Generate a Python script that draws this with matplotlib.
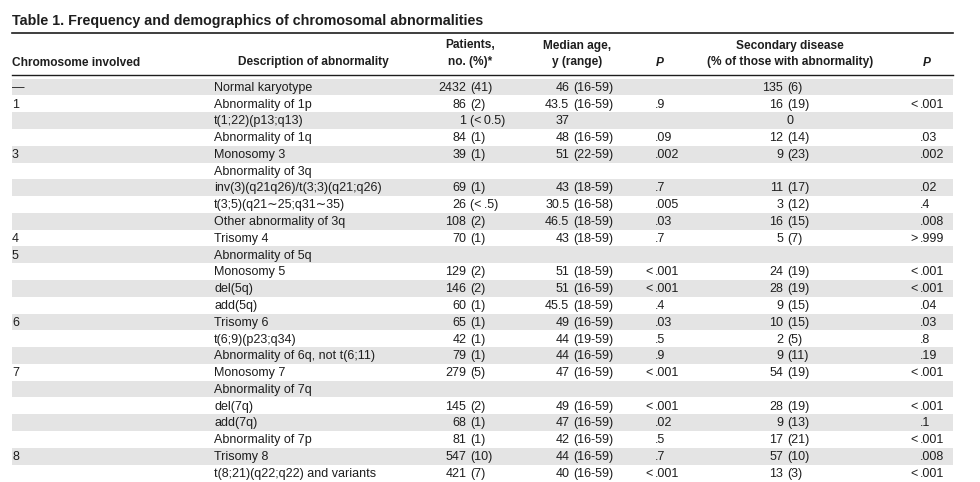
import matplotlib
matplotlib.use('Agg')
import matplotlib.pyplot as plt
from matplotlib.patches import Rectangle

# ------------- table contents ------------- #

title = 'Table 1. Frequency and demographics of chromosomal abnormalities'

chromosome = ['\u2014', '1', '', '', '3', '', '', '', '', '4', '5', '', '', '',
              '6', '', '', '7', '', '', '', '', '8', '']
description = ['Normal karyotype', 'Abnormality of 1p', 't(1;22)(p13;q13)',
               'Abnormality of 1q', 'Monosomy 3', 'Abnormality of 3q',
               'inv(3)(q21q26)/t(3;3)(q21;q26)', 't(3;5)(q21\u223c25;q31\u223c35)',
               'Other abnormality of 3q', 'Trisomy 4', 'Abnormality of 5q',
               'Monosomy 5', 'del(5q)', 'add(5q)', 'Trisomy 6', 't(6;9)(p23;q34)',
               'Abnormality of 6q, not t(6;11)', 'Monosomy 7', 'Abnormality of 7q',
               'del(7q)', 'add(7q)', 'Abnormality of 7p', 'Trisomy 8',
               't(8;21)(q22;q22) and variants']
patients = ['2432 (41)', '86 (2)', '1 (< 0.5)', '84 (1)', '39 (1)', '',
            '69 (1)', '26 (< .5)', '108 (2)', '70 (1)', '', '129 (2)',
            '146 (2)', '60 (1)', '65 (1)', '42 (1)', '79 (1)', '279 (5)', '',
            '145 (2)', '68 (1)', '81 (1)', '547 (10)', '421 (7)']
median_age = ['46 (16-59)', '43.5 (16-59)', '37', '48 (16-59)', '51 (22-59)', '',
              '43 (18-59)', '30.5 (16-58)', '46.5 (18-59)', '43 (18-59)', '',
              '51 (18-59)', '51 (16-59)', '45.5 (18-59)', '49 (16-59)',
              '44 (19-59)', '44 (16-59)', '47 (16-59)', '', '49 (16-59)',
              '47 (16-59)', '42 (16-59)', '44 (16-59)', '40 (16-59)']
p_age = ['', '.9', '', '.09', '.002', '', '.7', '.005', '.03', '.7', '',
         '< .001', '< .001', '.4', '.03', '.5', '.9', '< .001', '', '< .001',
         '.02', '.5', '.7', '< .001']
secondary = ['135 (6)', '16 (19)', '0', '12 (14)', '9 (23)', '', '11 (17)',
             '3 (12)', '16 (15)', '5 (7)', '', '24 (19)', '28 (19)', '9 (15)',
             '10 (15)', '2 (5)', '9 (11)', '54 (19)', '', '28 (19)', '9 (13)',
             '17 (21)', '57 (10)', '13 (3)']
p_secondary = ['', '< .001', '', '.03', '.002', '', '.02', '.4', '.008', '> .999',
               '', '< .001', '< .001', '.04', '.03', '.8', '.19', '< .001', '',
               '< .001', '.1', '< .001', '.008', '< .001']

# ------------------ style ----------------- #

plt.rcParams['font.family'] = ['Liberation Sans', 'DejaVu Sans']
txt = '#1e1e1e'
band = '#e4e4e4'
fs = 9
x0, x1 = 12, 953
row0, rowH = 87, 16.78
dy = 0.8  # va='center' sits a bit high, nudge the text down

fig = plt.figure(figsize=(9.8, 4.82), dpi=100)
ax = fig.add_axes([0, 0, 1, 1])
ax.set_xlim(0, 980)
ax.set_ylim(482, 0)
ax.axis('off')


def split_cell(x_paren, y, s):
    # number right of a gap, bracket part from the aligned "("
    if not s:
        return
    if '(' not in s:
        ax.text(x_paren - 3.8, y, s, ha='right', va='center', fontsize=fs, color=txt)
        return
    num, rest = s.split(' (', 1)
    ax.text(x_paren - 3.8, y, num, ha='right', va='center', fontsize=fs, color=txt)
    rest = '(' + rest.replace('< ', '<\u2009')
    ax.text(x_paren, y, rest, ha='left', va='center', fontsize=fs, color=txt)


def p_cell(x_dec, y, s):
    if not s:
        return
    if s[0] in '<>':
        ax.text(x_dec - 2.5, y, s[0], ha='right', va='center', fontsize=fs, color=txt)
        s = s[2:]
    ax.text(x_dec, y, s, ha='left', va='center', fontsize=fs, color=txt)


# title and rules
ax.text(x0, 20.5, title, ha='left', va='center', fontsize=10.3, fontweight='bold',
        color=txt)
ax.plot([x0, x1], [33, 33], color=txt, lw=1.2)
ax.plot([x0, x1], [74.5, 74.5], color=txt, lw=1.0)

# header
hy1, hy2 = 45.5, 62.5
hkw = dict(va='center', fontsize=8.6, fontweight='bold', color=txt)
ax.text(x0, hy2, 'Chromosome involved', ha='left', **hkw)
ax.text(313, hy2, 'Description of abnormality', ha='center', **hkw)
ax.text(470, hy1, 'Patients,', ha='center', **hkw)
ax.text(470, hy2, 'no. (%)*', ha='center', **hkw)
ax.text(577, hy1, 'Median age,', ha='center', **hkw)
ax.text(577, hy2, 'y (range)', ha='center', **hkw)
ax.text(660, hy2, 'P', ha='center', style='italic', **hkw)
ax.text(790, hy1, 'Secondary disease', ha='center', **hkw)
ax.text(790, hy2, '(% of those with abnormality)', ha='center', **hkw)
ax.text(927, hy2, 'P', ha='center', style='italic', **hkw)

# body rows
for i in range(len(description)):
    y = row0 + i * rowH
    if i % 2 == 0:
        ax.add_patch(Rectangle((x0, y - rowH / 2), x1 - x0, rowH,
                               facecolor=band, edgecolor='none', zorder=0))
    yt = y + dy
    ax.text(x0, yt, chromosome[i], ha='left', va='center', fontsize=fs, color=txt)
    ax.text(214, yt, description[i], ha='left', va='center', fontsize=fs, color=txt)
    split_cell(470, yt, patients[i])
    split_cell(573, yt, median_age[i])
    p_cell(655, yt, p_age[i])
    if secondary[i] and '(' not in secondary[i]:
        ax.text(790, yt, secondary[i], ha='center', va='center', fontsize=fs,
                color=txt)
    else:
        split_cell(787, yt, secondary[i])
    p_cell(920, yt, p_secondary[i])

plt.savefig('out.png', dpi=100)
